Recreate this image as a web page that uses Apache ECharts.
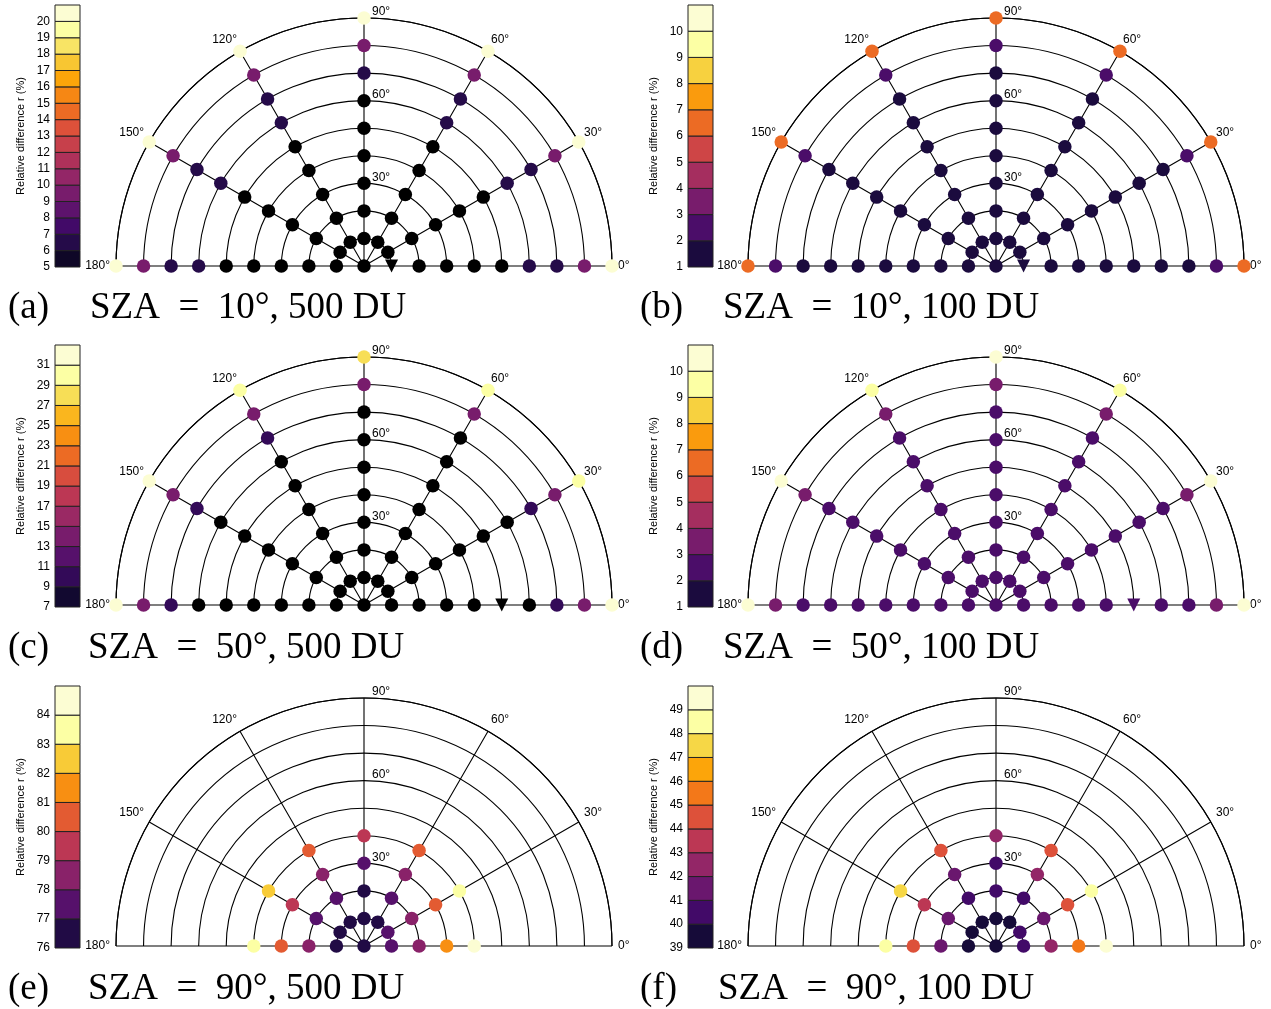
<!DOCTYPE html>
<html><head><meta charset="utf-8">
<script src="https://cdn.jsdelivr.net/npm/echarts@6/dist/echarts.min.js"></script>
<style>html,body{margin:0;padding:0;background:#fff}#c{width:1271px;height:1009px}</style>
</head><body><div id="c"></div>
<script>
// ---------------- data ----------------
const azimuths = [0, 30, 60, 90, 120, 150, 180];
const vzaFull = [10, 20, 30, 40, 50, 60, 70, 80, 90];
const vzaNear = [10, 20, 30, 40];
const radialTickLabels = [30, 60, 90];
const angleTickLabels = [0, 30, 60, 120, 150, 180];

// rows = azimuth 0,30,...,180 ; columns = viewing zenith angle
const valuesA = [
  [4, 4, 4, 4, 4, 6.5, 6.5, 9, 20.5],
  [4, 4, 4, 4, 4, 6.5, 6.5, 9, 20.5],
  [4, 4, 4, 4, 4, 6.5, 6.5, 9, 20.5],
  [4, 4, 4, 4, 4, 4, 6.5, 9, 20.5],
  [4, 4, 4, 4, 4, 6.5, 6.5, 9, 20.5],
  [4, 4, 4, 4, 4, 6.5, 6.5, 9, 20.5],
  [4, 4, 4, 4, 4, 6.5, 6.5, 9, 20.5]
];
const centerA = 4;

const valuesB = [
  [1.5, 1.5, 1.5, 1.5, 1.5, 1.5, 1.5, 2.5, 6.5],
  [1.5, 1.5, 1.5, 1.5, 1.5, 1.5, 1.5, 2.5, 6.5],
  [1.5, 1.5, 1.5, 1.5, 1.5, 1.5, 1.5, 2.5, 6.5],
  [1.5, 1.5, 1.5, 1.5, 1.5, 1.5, 1.5, 2.5, 6.5],
  [1.5, 1.5, 1.5, 1.5, 1.5, 1.5, 1.5, 2.5, 6.5],
  [1.5, 1.5, 1.5, 1.5, 1.5, 1.5, 1.5, 2.5, 6.5],
  [1.5, 1.5, 1.5, 1.5, 1.5, 1.5, 1.5, 2.5, 6.5]
];
const centerB = 1.5;

const valuesC = [
  [5, 5, 5, 5, 5, 5, 10, 14, 32],
  [5, 5, 5, 5, 5, 5, 10, 14, 30],
  [5, 5, 5, 5, 5, 5, 5, 14, 30],
  [5, 5, 5, 5, 5, 5, 5, 14, 28],
  [5, 5, 5, 5, 5, 5, 10, 14, 30],
  [5, 5, 5, 5, 5, 5, 10, 14, 32],
  [5, 5, 5, 5, 5, 5, 10, 14, 32]
];
const centerC = 5;

const valuesD = [
  [2.5, 2.5, 2.5, 2.5, 2.5, 2.5, 2.5, 3.5, 10.4],
  [2.5, 2.5, 2.5, 2.5, 2.5, 2.5, 2.5, 3.5, 10.4],
  [2.5, 2.5, 2.5, 2.5, 2.5, 2.5, 2.5, 3.5, 9.6],
  [2.5, 2.5, 2.5, 2.5, 2.5, 2.5, 2.5, 3.5, 10.2],
  [2.5, 2.5, 2.5, 2.5, 2.5, 2.5, 2.5, 3.5, 9.6],
  [2.5, 2.5, 2.5, 2.5, 2.5, 2.5, 2.5, 3.5, 10.4],
  [2.5, 2.5, 2.5, 2.5, 2.5, 2.5, 2.5, 3.5, 10.4]
];
const centerD = 2.5;

const valuesE = [
  [77.5, 78.5, 81.5, 84.5],
  [77.5, 78.5, 80.5, 83.5],
  [76.5, 77.5, 78.5, 80.5],
  [76.5, 76.5, 77.5, 79.5],
  [76.5, 77.5, 78.5, 80.5],
  [76.5, 77.5, 79.5, 82.5],
  [76.5, 78.5, 80.5, 83.5]
];
const centerE = 76.5;

const valuesF = [
  [40.5, 42.5, 45.5, 49.5],
  [40.5, 41.5, 44.5, 48.5],
  [39.5, 40.5, 42.5, 44.5],
  [39.5, 40.5, 40.5, 42.5],
  [39.5, 40.5, 41.5, 44.5],
  [39.5, 41.5, 43.5, 47.5],
  [39.5, 41.5, 44.5, 48.5]
];
const centerF = 39.5;

const panelValues = [valuesA, valuesB, valuesC, valuesD, valuesE, valuesF];
const panelCenters = [centerA, centerB, centerC, centerD, centerE, centerF];
const panelVza = [vzaFull, vzaFull, vzaFull, vzaFull, vzaNear, vzaNear];
const sunVza = [10, 10, 50, 50, 90, 90];
const sunAzimuth = 0;

const colorbarMin = [5, 1, 7, 1, 76, 39];
const colorbarMax = [21, 11, 33, 11, 85, 50];
const colorbarStep = [1, 1, 2, 1, 1, 1];

const captionLetters = ['(a)', '(b)', '(c)', '(d)', '(e)', '(f)'];
const captionTexts = ['SZA\u2002=\u200210°, 500 DU', 'SZA\u2002=\u200210°, 100 DU', 'SZA\u2002=\u200250°, 500 DU',
                      'SZA\u2002=\u200250°, 100 DU', 'SZA\u2002=\u200290°, 500 DU', 'SZA\u2002=\u200290°, 100 DU'];
const colorbarName = 'Relative difference r (%)';

// ---------------- layout / style ----------------
const polarCenters = [[364, 266], [996, 266], [364, 605], [996, 605], [364, 946], [996, 946]];
const polarRadius = 248;
const cbLeft = [55, 688, 55, 688, 55, 688];
const cbTop = [5, 5, 345, 345, 686, 686];
const cbHeight = 262;
const capTop = [290, 290, 630, 630, 971, 971];
const capLetterLeft = [8, 640, 8, 640, 8, 640];
const capTextLeft = [90, 723, 88, 723, 88, 718];

const INF = ['#000004', '#160b39', '#420a68', '#6a176e', '#932667', '#bc3754',
             '#dd513a', '#f37819', '#fca50a', '#f6d746', '#fcffa4'];
const CREAM = '#fcfdd3';
const UNDER = '#000000';
function hex2rgb(h) { return [1, 3, 5].map(i => parseInt(h.substr(i, 2), 16)); }
function inferno(t) {
  t = Math.max(0, Math.min(1, t));
  const x = t * 10, i = Math.min(9, Math.floor(x)), f = x - i;
  const a = hex2rgb(INF[i]), b = hex2rgb(INF[i + 1]);
  return 'rgb(' + a.map((v, k) => Math.round(v + (b[k] - v) * f)).join(',') + ')';
}
function binsFor(p) {
  const lo = colorbarMin[p], hi = colorbarMax[p], st = colorbarStep[p];
  const n = Math.round((hi - lo) / st);
  const bins = [];
  for (let i = 0; i < n; i++) {
    const a = lo + i * st;
    bins.push({ a: a, b: a + st, color: i === n - 1 ? CREAM : inferno((i + 1) / (n - 1)) });
  }
  return bins;
}

const option = {
  animation: false,
  backgroundColor: '#fff',
  textStyle: { fontFamily: 'Liberation Sans, Arial, sans-serif' },
  title: [], polar: [], angleAxis: [], radiusAxis: [], grid: [], xAxis: [], yAxis: [],
  visualMap: [], series: []
};

const capStyle = { fontFamily: 'Liberation Serif', fontSize: 37, fontWeight: 'normal', color: '#000' };
for (let p = 0; p < 6; p++) {
  // captions
  option.title.push({ text: captionLetters[p], left: capLetterLeft[p], top: capTop[p], padding: 0, textStyle: capStyle });
  option.title.push({ text: captionTexts[p], left: capTextLeft[p], top: capTop[p], padding: 0, textStyle: capStyle });

  // main polar
  option.polar.push({ center: polarCenters[p], radius: polarRadius });
  option.angleAxis.push({
    polarIndex: 2 * p, type: 'value', min: 0, max: 180, interval: 30,
    startAngle: 0, endAngle: 180, clockwise: false,
    axisLine: { show: true, lineStyle: { color: '#000', width: 1.1 } },
    axisTick: { show: false },
    splitLine: { show: true, lineStyle: { color: '#000', width: 1.1 } },
    axisLabel: { show: true, margin: 6, color: '#000', fontSize: 12, showMinLabel: true, showMaxLabel: true,
      formatter: v => angleTickLabels.indexOf(v) >= 0 ? v + '°' : '' }
  });
  option.radiusAxis.push({
    polarIndex: 2 * p, type: 'value', min: 0, max: 90, interval: 10,
    axisLine: { show: false }, axisTick: { show: false }, axisLabel: { show: false },
    splitLine: { show: true, lineStyle: { color: '#000', width: 1.1 } }
  });
  // label polar (radius labels along the 90° spoke)
  option.polar.push({ center: polarCenters[p], radius: polarRadius });
  option.angleAxis.push({ polarIndex: 2 * p + 1, type: 'value', min: 0, max: 360, startAngle: 90, show: false });
  option.radiusAxis.push({
    polarIndex: 2 * p + 1, type: 'value', min: 0, max: 90, interval: 10,
    axisLine: { show: false }, axisTick: { show: false }, splitLine: { show: false },
    axisLabel: { show: true, margin: -8, align: 'left', verticalAlign: 'bottom', color: '#000', fontSize: 12,
      showMaxLabel: true, formatter: v => radialTickLabels.indexOf(v) >= 0 ? v + '°' : '' }
  });

  // points
  const data = [{ value: [0, 0, panelCenters[p]] }];
  const vals = panelValues[p], vz = panelVza[p];
  azimuths.forEach((az, k) => {
    vz.forEach((r, j) => {
      const item = { value: [r, az, vals[k][j]] };
      if (az === sunAzimuth && r === sunVza[p]) { item.symbol = 'triangle'; item.symbolRotate = 180; item.symbolSize = 13; }
      data.push(item);
    });
  });
  option.series.push({
    type: 'scatter', coordinateSystem: 'polar', polarIndex: 2 * p,
    symbol: 'circle', symbolSize: 13.5, data: data, z: 5,
    itemStyle: { opacity: 1 }
  });

  // colorbar
  const bins = binsFor(p);
  const pieces = [{ lt: colorbarMin[p], color: UNDER }]
    .concat(bins.map(b => ({ gte: b.a, lt: b.b, color: b.color })))
    .concat([{ gte: colorbarMax[p], color: CREAM }]);
  option.visualMap.push({ type: 'piecewise', show: false, seriesIndex: p, dimension: 2, pieces: pieces });

  option.grid.push({ left: cbLeft[p], top: cbTop[p], width: 25, height: cbHeight });
  option.xAxis.push({ gridIndex: p, type: 'category', data: [''], show: false });
  option.yAxis.push({
    gridIndex: p, type: 'value', min: colorbarMin[p], max: colorbarMax[p], interval: colorbarStep[p],
    axisLine: { show: false }, axisTick: { show: false }, splitLine: { show: false },
    axisLabel: { color: '#000', fontSize: 12, margin: 5, showMaxLabel: true,
      formatter: v => v >= colorbarMax[p] ? '' : String(v) },
    name: colorbarName, nameLocation: 'middle', nameGap: 29,
    nameTextStyle: { color: '#000', fontSize: 11 }
  });
}
for (let p = 0; p < 6; p++) {
  const bins = binsFor(p);
  option.series.push({
    type: 'line', xAxisIndex: p, yAxisIndex: p, data: [], silent: true,
    markArea: { silent: true, itemStyle: { borderColor: '#222', borderWidth: 1, opacity: 1 },
      data: bins.map(b => [{ yAxis: b.a, itemStyle: { color: b.color } }, { yAxis: b.b }]) }
  });
}

const chart = echarts.init(document.getElementById('c'), null, { renderer: 'canvas' });
chart.setOption(option);
</script></body></html>
